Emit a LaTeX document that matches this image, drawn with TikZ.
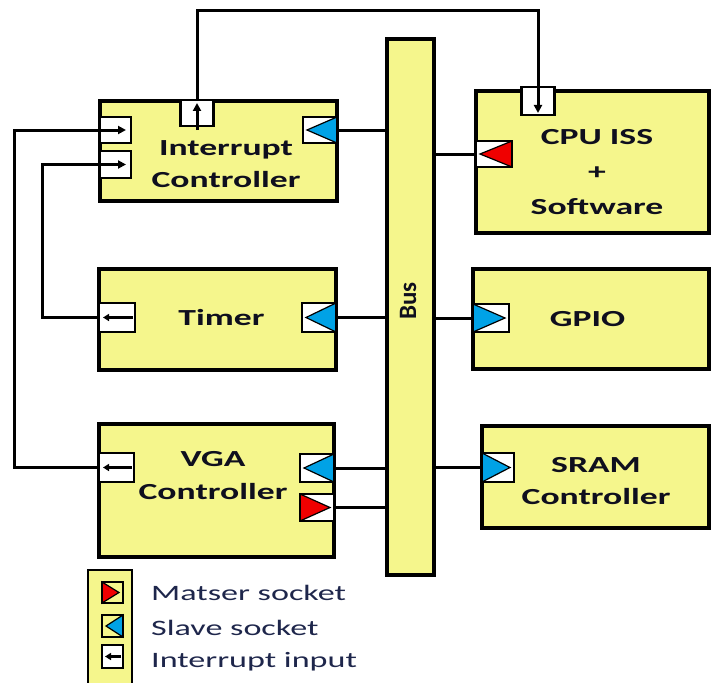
\documentclass[tikz,border=0pt]{standalone}
\usepackage{fontspec}
\setmainfont{Carlito}
\newfontfamily\wfont[FakeStretch=1.55]{Carlito}
\usetikzlibrary{arrows.meta}
\definecolor{byellow}{RGB}{245,246,140}
\definecolor{sblue}{RGB}{0,162,230}
\definecolor{mred}{RGB}{240,0,0}
\definecolor{txtc}{RGB}{15,15,30}
\definecolor{legtxt}{RGB}{30,38,75}
\newcommand\trileft[2]{%
  \filldraw[fill=#2,draw=black,line width=1.2pt] (#1.north east) -- (#1.south east) -- ([xshift=4pt]#1.west) -- cycle;
  \draw[line width=2.5pt] (#1.north west) rectangle (#1.south east);}
\newcommand\triright[2]{%
  \filldraw[fill=#2,draw=black,line width=1.2pt] (#1.north west) -- (#1.south west) -- ([xshift=-4pt]#1.east) -- cycle;
  \draw[line width=2.5pt] (#1.north west) rectangle (#1.south east);}
\begin{document}
\begin{tikzpicture}[x=1pt,y=-1pt,
  blk/.style={draw,line width=3.2pt,fill=byellow,rectangle,inner sep=0pt,outer sep=0pt},
  port/.style={draw,line width=2.5pt,fill=white,rectangle,inner sep=0pt,outer sep=0pt},
  wire/.style={line width=3pt},
  tip/.style={-{Triangle[length=8pt,width=8pt]}},
  stip/.style={-{Triangle[length=6pt,width=7pt]}},
  lbl/.style={font=\wfont\bfseries\fontsize{23}{32}\selectfont,text=txtc,align=center,inner sep=0pt},
  legt/.style={font=\wfont\fontsize{22}{26}\selectfont,text=legtxt,inner sep=0pt,anchor=base west}]
\useasboundingbox (0,0) rectangle (711,682);

% main blocks
\node[blk,minimum width=237pt,minimum height=100pt] (ic) at (218.5,151) {};
\node[blk,minimum width=233pt,minimum height=142pt] (cpu) at (592.5,162) {};
\node[blk,minimum width=237pt,minimum height=101pt] (tim) at (217.5,319.5) {};
\node[blk,minimum width=236pt,minimum height=100pt] (gpio) at (591,319) {};
\node[blk,minimum width=235pt,minimum height=133pt] (vga) at (216.5,490.5) {};
\node[blk,minimum width=227pt,minimum height=102pt] (sram) at (595.5,477) {};
\node[blk,minimum width=47pt,minimum height=536pt] (bus) at (410.5,307) {};

% labels
\node[lbl] (ict) at (226,164) {Interrupt\\Controller};
\node[lbl,font=\wfont\bfseries\fontsize{23}{35}\selectfont] (cput) at (597,172.5) {CPU ISS\\+\\Software};
\node[lbl] (timt) at (221.5,318) {Timer};
\node[lbl] (gpiot) at (587.5,319.5) {GPIO};
\node[lbl,font=\wfont\bfseries\fontsize{23}{33}\selectfont] (vgat) at (213,476) {VGA\\Controller};
\node[lbl] (sramt) at (596,481) {SRAM\\Controller};
\node[lbl,font=\bfseries\fontsize{25}{30}\selectfont,rotate=90] (bust) at (408,301) {Bus};

% ports
\node[port,minimum width=33pt,minimum height=26pt] (icout) at (197,113) {};
\node[port,minimum width=31pt,minimum height=26pt] (icin1) at (115.5,130) {};
\node[port,minimum width=31pt,minimum height=27pt] (icin2) at (115.5,164.5) {};
\node[port,minimum width=34pt,minimum height=26pt] (ics) at (320,130) {};
\node[port,minimum width=33pt,minimum height=28pt] (cpuin) at (538,101) {};
\node[port,minimum width=36pt,minimum height=26pt] (cpum) at (494,154) {};
\node[port,minimum width=36pt,minimum height=29pt] (timint) at (117,317.5) {};
\node[port,minimum width=34pt,minimum height=29pt] (tims) at (319,317.5) {};
\node[port,minimum width=36pt,minimum height=28pt] (gpios) at (491,318) {};
\node[port,minimum width=35pt,minimum height=29pt] (vgaint) at (116.5,467.5) {};
\node[port,minimum width=34pt,minimum height=28pt] (vgas) at (317,468) {};
\node[port,minimum width=34pt,minimum height=27pt] (vgam) at (317,507.5) {};
\node[port,minimum width=32pt,minimum height=29pt] (srams) at (498,467.5) {};

\trileft{ics}{sblue}
\trileft{cpum}{mred}
\trileft{tims}{sblue}
\triright{gpios}{sblue}
\trileft{vgas}{sblue}
\triright{vgam}{mred}
\triright{srams}{sblue}

% bus connections
\draw[wire] (ics.east) -- (ics.east -| bus.west);
\draw[wire] (cpum.west) -- (cpum.west -| bus.east);
\draw[wire] (tims.east) -- (tims.east -| bus.west);
\draw[wire] (gpios.west) -- (gpios.west -| bus.east);
\draw[wire] (vgas.east) -- (vgas.east -| bus.west);
\draw[wire] (vgam.east) -- (vgam.east -| bus.west);
\draw[wire] (srams.west) -- (srams.west -| bus.east);

% interrupt wiring
\coordinate (topy) at (0,11);
\coordinate (lft) at (14,0);
\coordinate (lft2) at (42,0);
\draw[wire,tip] ([yshift=-4pt]icout.south) -- ([yshift=-3pt]icout.north);
\draw[wire,tip] (icout.north) -- (icout.north |- topy) -| ([yshift=2pt]cpuin.south);
\draw[wire,stip] ([xshift=-2pt]timint.east) -- ([xshift=4pt]timint.west);
\draw[wire,stip] ([xshift=-2pt]vgaint.east) -- ([xshift=4pt]vgaint.west);
\draw[wire,tip] (vgaint.west) -- (vgaint.west -| lft) |- ([xshift=-5pt]icin1.east);
\draw[wire,tip] (timint.west) -- (timint.west -| lft2) |- ([xshift=-5pt]icin2.east);

% legend
\fill[byellow] (88,570) rectangle (132,684);
\draw[line width=2.5pt] (88,684) -- (88,570) -- (132,570) -- (132,684);
\node[port,fill=byellow,minimum width=21pt,minimum height=21pt] (legm) at (112.5,592.5) {};
\node[port,fill=byellow,minimum width=21pt,minimum height=22pt] (legs) at (112.5,626) {};
\node[port,minimum width=21pt,minimum height=23pt] (legi) at (112.5,656.5) {};
\triright{legm}{mred}
\trileft{legs}{sblue}
\draw[wire,stip] ([xshift=-2pt]legi.east) -- ([xshift=3pt]legi.west);
\node[legt] (lt1) at (151,600) {Matser socket};
\node[legt] (lt2) at (151,635) {Slave socket};
\node[legt] (lt3) at (151,667) {Interrupt input};
\end{tikzpicture}
\end{document}
